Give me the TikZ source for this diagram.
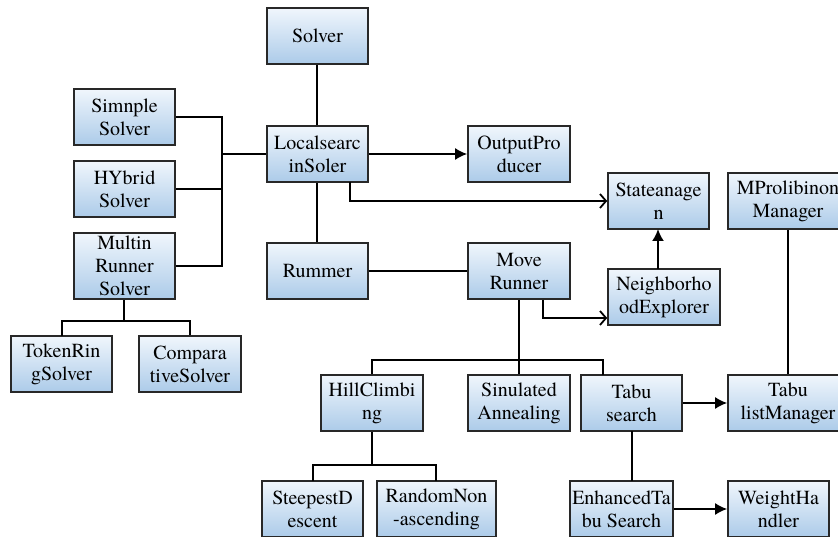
\documentclass[tikz,border=0pt]{standalone}
\usepackage{fontspec}
\setmainfont{texgyretermes-regular.otf}
\usepackage{tikz}
\usetikzlibrary{arrows.meta}
\definecolor{boxtop}{RGB}{240,246,252}
\definecolor{boxbottom}{RGB}{172,203,233}
\definecolor{boxline}{RGB}{40,40,40}
\tikzset{box/.style = {draw=boxline, line width=1.6bp, top color=boxtop, bottom color=boxbottom,
                       minimum width=101bp, minimum height=56bp, inner sep=0pt, align=center,
                       font=\rmfamily\fontsize{20bp}{23bp}\selectfont},
         link/.style = {draw=black, line width=2bp},
         fillarrow/.style = {link, -{Latex[length=12bp,width=12bp]}},
         openarrow/.style = {link, -{Straight Barb[length=6bp,width=14bp,line width=1.8bp]}}}

\begin{document}
\begin{tikzpicture}[x=1bp, y=-1bp]
      \clip (0, 0) rectangle (838, 537);
      \fill [white] (0, 0) rectangle (838, 537);
      \node [box] (solver) at (317.5, 36) {Solver};
      \node [box] (simple) at (124.5, 117) {Simnple\\Solver};
      \node [box] (hybrid) at (124.5, 189) {HYbrid\\Solver};
      \node [box, minimum height=66bp] (multi) at (124.5, 266) {Multin\\Runner\\Solver};
      \node [box] (local) at (317.5, 154) {Localsearc\\inSoler};
      \node [box] (rummer) at (317.5, 271) {Rummer};
      \node [box, minimum width=102bp] (output) at (519, 154) {OutputPro\\ducer};
      \node [box] (state) at (658.5, 201) {Stateanage\\n};
      \node [box, minimum width=120bp] (mprob) at (788, 201) {MProlibinon\\Manager};
      \node [box, minimum width=102bp] (move) at (519, 271) {Move\\Runner};
      \node [box, minimum width=112bp] (neigh) at (664, 297) {Neighborho\\odExplorer};
      \node [box, minimum width=102bp] (hill) at (372, 403) {HillClimbi\\ng};
      \node [box, minimum width=102bp] (sim) at (519, 403) {Sinulated\\Annealing};
      \node [box] (tabu) at (631.5, 403) {Tabu\\search};
      \node [box, minimum width=120bp] (tabulist) at (788, 403) {Tabu\\listManager};
      \node [box, minimum width=103bp] (enhanced) at (621.5, 509) {EnhancedTa\\bu Search};
      \node [box] (weight) at (778.5, 509) {WeightHa\\ndler};
      \node [box] (token) at (61.5, 364) {TokenRin\\gSolver};
      \node [box, minimum width=102bp] (compar) at (190, 364) {Compara\\tiveSolver};
      \node [box] (steep) at (312.5, 509) {SteepestD\\escent};
      \node [box, minimum width=119bp] (random) at (436.5, 509) {RandomNon\\-ascending};
      \coordinate (jl) at (222, 154);
      \coordinate (jm) at (519, 360);
      \coordinate (jh) at (372, 465);
      \coordinate (jt) at (124, 321);
      \draw [link] ([xshift=-0.5bp]solver.south) -- ([xshift=-0.5bp]local.north);
      \draw [link] (simple.east) -| (jl) |- (multi.east);
      \draw [link] (hybrid.east) -- (hybrid.east -| jl);
      \draw [link] (jl) -- (local.west);
      \draw [fillarrow] (local) -- (output);
      \draw [openarrow] (350, 182) |- (state.west);
      \draw [link] ([xshift=-0.5bp]local.south) -- ([xshift=-0.5bp]rummer.north);
      \draw [link] (rummer) -- (move);
      \draw [fillarrow] (658, 269) -- (658, 229);
      \draw [openarrow] ([xshift=24bp]move.south) |- ([yshift=-21bp]neigh.west);
      \draw [link] (move) -- (sim);
      \draw [link] (hill.north) |- (jm) -| (603, 375);
      \draw [fillarrow] (tabu) -- (tabulist);
      \draw [link] (mprob) -- (tabulist);
      \draw [link] (632, 431) -- (632, 481);
      \draw [fillarrow] (enhanced) -- (weight);
      \draw [link] (hill) -- (jh);
      \draw [link] (313, 481) |- (jh) -| (436, 481);
      \draw [link] (multi.south -| jt) -- (jt);
      \draw [link] (62, 336) |- (jt) -| (compar.north);
    \end{tikzpicture}
\end{document}
